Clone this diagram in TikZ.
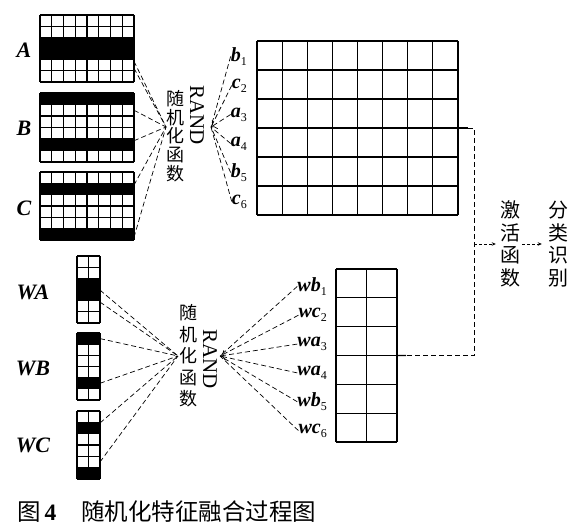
\documentclass[tikz,border=0pt]{standalone}
\usepackage{fontspec}
\setmainfont{Liberation Serif}
\newfontfamily\cjk{Noto Sans CJK SC}
\usetikzlibrary{positioning,arrows.meta}

% grid of cells, with named row points on both sides
\newcommand{\cellgrid}[7]{% name, x, y, cols, rows, cell w, cell h
  \foreach \i in {0,...,#4}
    \draw[gridline] ({#2+\i*#6},#3) -- ({#2+\i*#6},{#3+#5*#7});
  \foreach \j in {0,...,#5}
    \draw[gridline] (#2,{#3+\j*#7}) -- ({#2+#4*#6},{#3+\j*#7});
  \foreach \j in {1,...,#5} {
    \coordinate (#1-w\j) at (#2,{#3+(\j-0.5)*#7});
    \coordinate (#1-e\j) at ({#2+#4*#6},{#3+(\j-0.5)*#7});
  }
}
\newcommand{\blackrows}[6]{% x, y, cols, cell w, cell h, rows
  \foreach \r in {#6}
    \fill ({#1},{#2+(\r-1)*#5}) rectangle ++({#3*#4},#5);
}
\newcommand{\idx}[2]{#1\raisebox{-4pt}{\normalfont\fontsize{12}{12}\selectfont #2}}

\begin{document}
\begin{tikzpicture}[x=1pt,y=-1pt,
  gridline/.style={line width=1.1pt},
  dline/.style={dash pattern=on 5pt off 3pt,line width=0.7pt},
  arr/.style={dash pattern=on 3pt off 2pt,line width=0.8pt,-{Stealth[length=4pt,width=3.5pt]}},
  gname/.style={font=\fontsize{22}{22}\selectfont\bfseries\itshape,inner sep=0pt},
  lbl/.style={font=\fontsize{20}{20}\selectfont\bfseries\itshape,inner sep=0pt},
  vtext/.style={align=center,inner sep=0pt},
  rand/.style={rotate=-90,inner sep=0pt,font=\fontsize{21}{21}\selectfont}]
  \useasboundingbox (0,0) rectangle (581,527);

  % input features
  \blackrows{40}{15}{8}{11.75}{11.17}{3,4}
  \cellgrid{A}{40}{15}{8}{6}{11.75}{11.17}
  \blackrows{40}{93}{8}{11.75}{11.5}{1,5}
  \cellgrid{B}{40}{93}{8}{6}{11.75}{11.5}
  \blackrows{40}{172}{8}{11.75}{11.33}{2,6}
  \cellgrid{C}{40}{172}{8}{6}{11.75}{11.33}
  \node[gname] (nA) at (24,50) {A};
  \node[gname] (nB) at (24,128) {B};
  \node[gname] (nC) at (24,208) {C};

  \blackrows{77}{256}{2}{11.5}{11.17}{3,4}
  \cellgrid{WA}{77}{256}{2}{6}{11.5}{11.17}
  \blackrows{77}{333}{2}{11.5}{11.17}{1,5}
  \cellgrid{WB}{77}{333}{2}{6}{11.5}{11.17}
  \blackrows{77}{411}{2}{11.5}{11.33}{2,6}
  \cellgrid{WC}{77}{411}{2}{6}{11.5}{11.33}
  \node[gname] (nWA) at (33,292) {WA};
  \node[gname] (nWB) at (33,368) {WB};
  \node[gname] (nWC) at (33,445) {WC};

  % fused features
  \cellgrid{big}{257}{41}{8}{6}{25.125}{29}
  \cellgrid{sm}{336}{269}{2}{6}{30.5}{28.83}
  \node[lbl,left=10pt of big-w1,yshift=-1pt] (b1) {\idx{b}{1}};
  \node[lbl,left=10pt of big-w2,yshift=-1pt] (c2) {\idx{c}{2}};
  \node[lbl,left=10pt of big-w3,yshift=-1pt] (a3) {\idx{a}{3}};
  \node[lbl,left=10pt of big-w4,yshift=-1pt] (a4) {\idx{a}{4}};
  \node[lbl,left=10pt of big-w5,yshift=-1pt] (b5) {\idx{b}{5}};
  \node[lbl,left=10pt of big-w6,yshift=-1pt] (c6) {\idx{c}{6}};
  \node[lbl,left=9pt of sm-w1,yshift=-3pt] (wb1) {\idx{wb}{1}};
  \node[lbl,left=9pt of sm-w2,yshift=-3pt] (wc2) {\idx{wc}{2}};
  \node[lbl,left=9pt of sm-w3,yshift=-3pt] (wa3) {\idx{wa}{3}};
  \node[lbl,left=9pt of sm-w4,yshift=-3pt] (wa4) {\idx{wa}{4}};
  \node[lbl,left=9pt of sm-w5,yshift=-3pt] (wb5) {\idx{wb}{5}};
  \node[lbl,left=9pt of sm-w6,yshift=-3pt] (wc6) {\idx{wc}{6}};

  % random functions
  \coordinate (ra) at (166,127);
  \coordinate (rb) at (211,127);
  \coordinate (rc) at (178,356);
  \coordinate (rd) at (220,356);
  \node[vtext,font=\cjk\fontsize{18}{18.75}\selectfont] (fA) at (175,136) {随\\机\\化\\函\\数};
  \node[rand] (randA) at (197,115) {RAND};
  \node[vtext,font=\cjk\fontsize{18}{21.5}\selectfont] (fW) at (188,356) {随\\机\\化\\函\\数};
  \node[rand] (randW) at (210,359) {RAND};

  \draw[dline] ([yshift=4pt]A-e5) -- (ra);
  \draw[dline] ([yshift=-3pt]A-e5) -- (ra);
  \draw[dline] (B-e2) -- (ra);
  \draw[dline] ([yshift=4pt]B-e5) -- (ra);
  \draw[dline] ([yshift=4pt]C-e2) -- (ra);
  \draw[dline] ([yshift=-3pt]C-e6) -- (ra);
  \path[dline]
  (b1.west) edge (rb)
  (c2.west) edge (rb)
  (a3.west) edge[-{To[length=5pt]}] (rb)
  (a4.west) edge (rb)
  (b5.west) edge (rb)
  (c6.west) edge (rb);

  \draw[dline] ([yshift=5pt]WA-e4) -- (rc);
  \draw[dline] ([yshift=-7pt]WA-e4) -- (rc);
  \draw[dline] (WB-e1) -- (rc);
  \draw[dline] (WB-e5) -- (rc);
  \draw[dline] ([yshift=5pt]WC-e2) -- (rc);
  \draw[dline] (WC-e5) -- (rc);
  \path[dline]
  (wb1.west) edge (rd)
  (wc2.west) edge (rd)
  (wa3.west) edge[-{To[length=5pt]}] (rd)
  (wa4.west) edge (rd)
  (wb5.west) edge (rd)
  (wc6.west) edge (rd);

  % activation and classification
  \coordinate (bigout) at (468,128);
  \coordinate (smout) at (406,355.5);
  \coordinate (turn1) at (474,128);
  \coordinate (turn2) at (474,355.5);
  \coordinate (mid) at (474,244);
  \draw[gridline] ([yshift=-14.5pt]big-e3) -- (bigout);
  \draw[gridline] ([yshift=-14.4pt]sm-e3) -- (smout);
  \draw[dline] (bigout) -- (turn1) -- (turn2) -- (smout);
  \node[vtext,font=\cjk\fontsize{20}{22.5}\selectfont] (act) at (510,244) {激\\活\\函\\数};
  \node[vtext,font=\cjk\fontsize{20}{22.5}\selectfont] (cls) at (558,244) {分\\类\\识\\别};
  \draw[arr] (mid) -- ([xshift=-4pt]act.west);
  \draw[arr] ([xshift=2pt]act.east) -- ([xshift=-6pt]cls.west);

  \node[anchor=west,inner sep=0pt,font=\fontsize{23.5}{23.5}\selectfont] (cap) at (17,512)
    {{\cjk 图}\hspace{4pt}\textbf{4}\hspace{25pt}{\cjk 随机化特征融合过程图}};
\end{tikzpicture}
\end{document}
